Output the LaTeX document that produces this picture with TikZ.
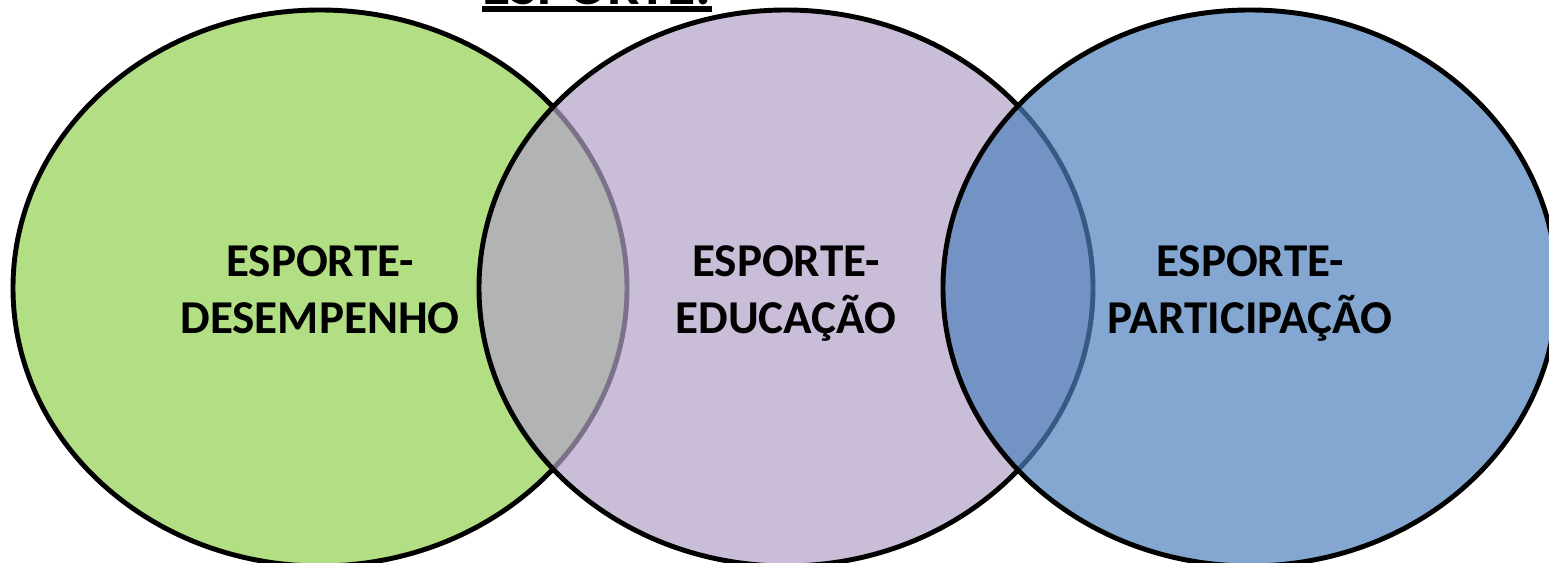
\documentclass[tikz,border=0pt]{standalone}
\usepackage{fontspec}
\setmainfont{Carlito}
\usepackage{tikz}
\definecolor{verde}{HTML}{92D050}
\definecolor{lilas}{HTML}{B2A1C7}
\definecolor{azul}{HTML}{4F81BD}

\begin{document}
\begin{tikzpicture}[
  ring/.style={draw=black, line width=1.4pt, fill opacity=0.7},
  ringtext/.style={font=\fontsize{13.4}{16.2}\selectfont\bfseries, align=center}]
% FRAME
  \useasboundingbox (0,0) rectangle (15.49,5.63);
  \clip (0,0) rectangle (15.49,5.63);

% ELLIPSES
  \draw[ring, fill=verde] ( 3.20,2.75) ellipse (3.07 and 2.78);
  \draw[ring, fill=lilas] ( 7.86,2.75) ellipse (3.07 and 2.78);
  \draw[ring, fill=azul]  (12.50,2.75) ellipse (3.07 and 2.78);

% LABELS
  \node[ringtext] (desempenho)   at ( 3.20,2.735) {ESPORTE-\\DESEMPENHO};
  \node[ringtext] (educacao)     at ( 7.86,2.695) {ESPORTE-\\EDUCAÇÃO};
  \node[ringtext] (participacao) at (12.50,2.695) {ESPORTE-\\PARTICIPAÇÃO};

% TITLE
  \node[font=\fontsize{16.4}{19}\selectfont\bfseries, anchor=base, inner sep=0pt]
    (titulo) at (5.97,5.585) {ESPORTE:};
  \fill ([yshift=-0.02cm]titulo.base west) rectangle ([yshift=-0.08cm]titulo.base east);
\end{tikzpicture}
\end{document}
